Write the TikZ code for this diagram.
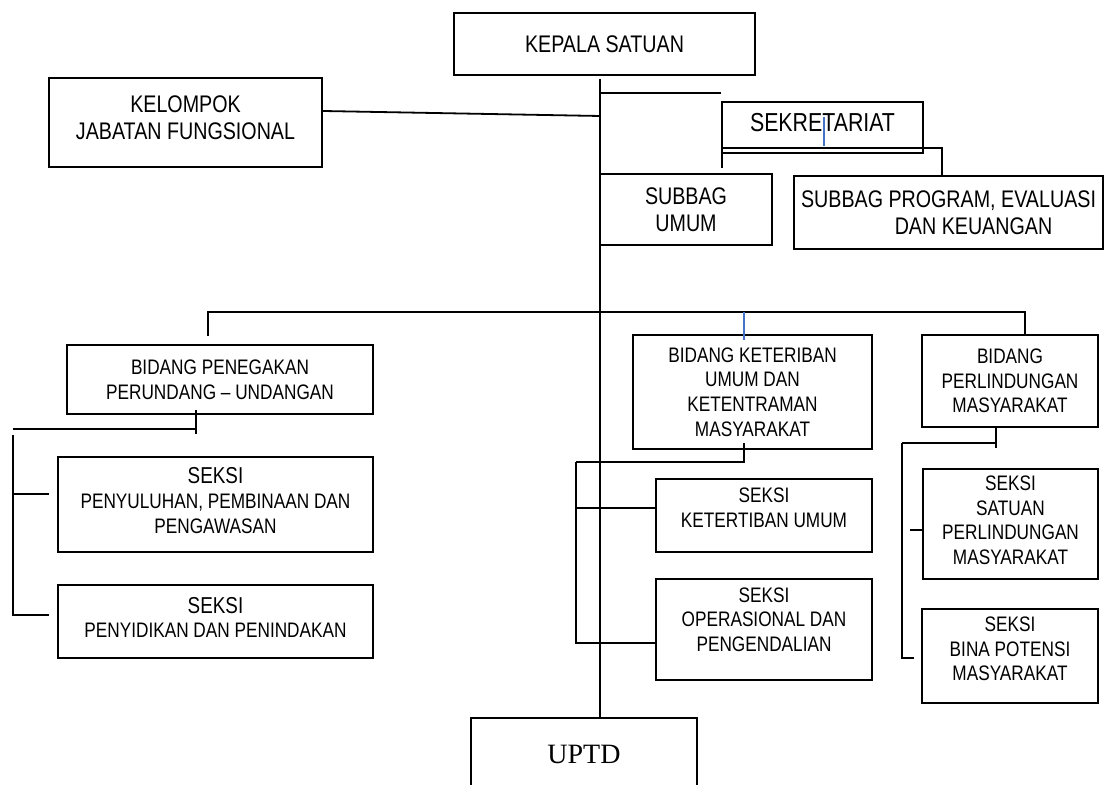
\documentclass[tikz,border=0pt]{standalone}
\usepackage{fontspec}
\setmainfont{Liberation Sans}[FakeStretch=0.82]
\newfontfamily\uptdfont{Liberation Serif}
\definecolor{bl}{RGB}{68,114,196}

\begin{document}
\begin{tikzpicture}[
    x=0.5pt, y=-0.5pt,
    line width=0.9pt,
    box/.style={
        draw, align=center, inner sep=0pt
    },
    wh/.style 2 args={
        minimum width=#1*0.5pt, minimum height=#2*0.5pt
    },
    lift/.style={text depth=#1},
    f12/.style={font=\fontsize{12}{13.5}\selectfont},
    f10/.style={font=\fontsize{10.5}{12.3}\selectfont},
    blu/.style={draw=bl, line width=0.8pt}
]
    \useasboundingbox (0,0) rectangle (1106,785);
    \clip (0,0) rectangle (1106,785);

    \node (kepala) [box,f12,wh={301}{62}] at (604.5,44) {KEPALA SATUAN};
    \node (kelompok) [box,f12,wh={273}{89},lift=4.5pt] at (185.5,122.5) {KELOMPOK\\JABATAN FUNGSIONAL};
    \node (sekretariat) [box,font=\fontsize{13}{15}\selectfont,wh={201}{51},lift=5pt] at (822.5,127.5) {SEKRETARIAT};
    \node (umum) [box,f12,wh={172}{71}] at (686,209.5) {SUBBAG\\UMUM};
    \node (program) [box,f12,wh={309}{73}] at (948.5,212.5) {SUBBAG PROGRAM, EVALUASI\\\hspace*{25pt}DAN KEUANGAN};

    \node (penegakan) [box,f10,wh={306}{69}] at (220,379.5) {BIDANG PENEGAKAN\\PERUNDANG – UNDANGAN};
    \node (ketertiban) [box,f10,wh={239}{114}] at (752.5,392) {BIDANG KETERIBAN\\UMUM DAN\\KETENTRAMAN\\MASYARAKAT};
    \node (perlindungan) [box,f10,wh={176}{92}] at (1010,381) {BIDANG\\PERLINDUNGAN\\MASYARAKAT};

    \node (penyuluhan) [box,f10,wh={315}{95},lift=4pt] at (215.5,504.5) {{\fontsize{11.5}{13}\selectfont SEKSI}\\PENYULUHAN, PEMBINAAN DAN\\PENGAWASAN};
    \node (penyidikan) [box,f10,wh={315}{73},lift=4pt] at (215.5,621.5) {{\fontsize{11.5}{13}\selectfont SEKSI}\\PENYIDIKAN DAN PENINDAKAN};
    \node (tibum) [box,f10,wh={216}{73},lift=8pt] at (764,515.5) {SEKSI\\KETERTIBAN UMUM};
    \node (operasional) [box,f10,wh={216}{101},lift=10pt] at (764,629.5) {SEKSI\\OPERASIONAL DAN\\PENGENDALIAN};
    \node (satuan) [box,f10,wh={175}{110},lift=4pt] at (1010.5,524) {SEKSI\\SATUAN\\PERLINDUNGAN\\MASYARAKAT};
    \node (bina) [box,f10,wh={176}{94},lift=7pt] at (1010,656) {SEKSI\\BINA POTENSI\\MASYARAKAT};

    \node (uptd) [box,font=\uptdfont\fontsize{14}{16}\selectfont,wh={226}{82},lift=5pt] at (584,759) {UPTD};

    \coordinate (t0) at (600,79);
    \coordinate (t1) at (600,116);
    \coordinate (t2) at (600,93);
    \draw (t0) -- (t0 |- uptd.north);
    \draw ([yshift=5.75pt]kelompok.east) -- (t1);
    \draw (t2) -- (t2 -| sekretariat.west);

    \coordinate (s1) at (722,168);
    \coordinate (s2) at (942,148);
    \coordinate (s3) at (824,117);
    \draw (s1) |- (s2) -- (s2 |- program.north);
    \draw[blu] (s3) -- ++(0,29);

    \coordinate (b1) at (208,336);
    \coordinate (b2) at (1025,336);
    \coordinate (b3) at (744,312);
    \draw (b1) -- ++(0,-24) -| (b2);
    \draw[blu] (b3) -- ++(0,28);

    \coordinate (p0) at (196,410);
    \coordinate (p1) at (13,429);
    \coordinate (p2) at (13,435);
    \coordinate (p3) at (13,615);
    \coordinate (p4) at (13,494);
    \draw (p0) -- ++(0,24);
    \draw (p1) -- (p1 -| p0);
    \draw (p2) -- (p3) -- ++(36,0);
    \draw (p4) -- ++(36,0);

    \coordinate (k0) at (744,443);
    \coordinate (k1) at (576,462);
    \coordinate (k2) at (576,508);
    \coordinate (k3) at (576,643);
    \draw (k0) -- ++(0,20);
    \draw (k1) -- (k1 -| k0);
    \draw (k1) -- (k3) -- (k3 -| operasional.west);
    \draw (k2) -- (k2 -| tibum.west);

    \coordinate (r0) at (996,427);
    \coordinate (r1) at (902,443);
    \coordinate (r2) at (910,530);
    \coordinate (r3) at (902,658);
    \draw (r0) -- ++(0,21);
    \draw (r1) -- (r1 -| r0);
    \draw (r1) -- (r3) -- ++(12,0);
    \draw (r2) -- (r2 -| satuan.west);

\end{tikzpicture}
\end{document}
